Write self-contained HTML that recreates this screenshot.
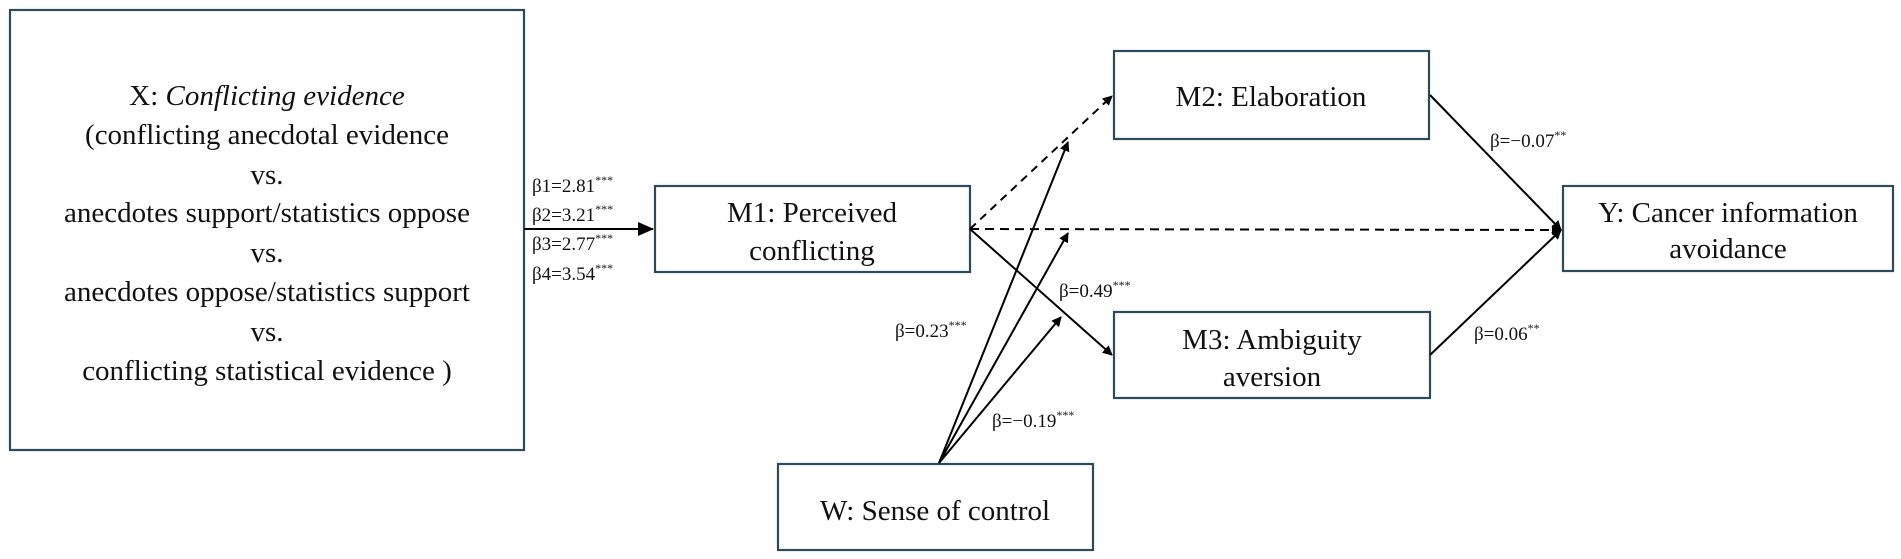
<!DOCTYPE html>
<html><head><meta charset="utf-8"><style>
html,body{margin:0;padding:0;background:#fff;}
svg{display:block;}
text{font-family:"Liberation Serif",serif;fill:#111;}
.b{fill:#fff;stroke:#2c4a5a;stroke-width:2.2;}
.t{font-size:29px;}
.s{font-size:19px;}
</style></head><body>
<svg width="1901" height="559" viewBox="0 0 1901 559">
<defs>
<marker id="a" markerWidth="10" markerHeight="10" refX="9" refY="5" orient="auto" markerUnits="userSpaceOnUse" viewBox="0 0 10 10">
<path d="M0,0 L10,5 L0,10 z" fill="#000"/></marker>
<marker id="a2" markerWidth="16" markerHeight="14" refX="15" refY="7" orient="auto" markerUnits="userSpaceOnUse" viewBox="0 0 16 14">
<path d="M0,0 L16,7 L0,14 z" fill="#000"/></marker>
</defs>
<rect class="b" x="10" y="10" width="514" height="440"/>
<rect class="b" x="655" y="186" width="315" height="86"/>
<rect class="b" x="1114" y="51" width="315" height="88"/>
<rect class="b" x="1114" y="312" width="316" height="86"/>
<rect class="b" x="1563" y="186" width="330" height="85"/>
<rect class="b" x="778" y="464" width="315" height="86"/>

<g stroke="#000" stroke-width="2" fill="none">
<line x1="524" y1="229" x2="653" y2="229" marker-end="url(#a2)"/>
<line x1="970" y1="229" x2="1112" y2="96" stroke-dasharray="8,6" marker-end="url(#a)"/>
<line x1="970" y1="229" x2="1561" y2="230" stroke-dasharray="9,6" marker-end="url(#a)"/>
<line x1="970" y1="229" x2="1112" y2="355" marker-end="url(#a)"/>
<line x1="1430" y1="95" x2="1561" y2="230" marker-end="url(#a)"/>
<line x1="1430" y1="355" x2="1561" y2="230" marker-end="url(#a)"/>
<line x1="939" y1="463" x2="1068" y2="142" marker-end="url(#a)"/>
<line x1="939" y1="463" x2="1068" y2="233" marker-end="url(#a)"/>
<line x1="939" y1="463" x2="1061" y2="317" marker-end="url(#a)"/>
</g>

<g class="t" text-anchor="middle">
<text x="267" y="105"><tspan>X: </tspan><tspan font-style="italic">Conflicting evidence</tspan></text>
<text x="267" y="144">(conflicting anecdotal evidence</text>
<text x="267" y="184">vs.</text>
<text x="267" y="222">anecdotes support/statistics oppose</text>
<text x="267" y="262">vs.</text>
<text x="267" y="301">anecdotes oppose/statistics support</text>
<text x="267" y="341">vs.</text>
<text x="267" y="380">conflicting statistical evidence )</text>
<text x="812" y="222">M1: Perceived</text>
<text x="812" y="260">conflicting</text>
<text x="1271" y="106">M2: Elaboration</text>
<text x="1272" y="349">M3: Ambiguity</text>
<text x="1272" y="386">aversion</text>
<text x="1728" y="222">Y: Cancer information</text>
<text x="1728" y="258">avoidance</text>
<text x="935" y="520">W: Sense of control</text>
</g>

<g class="s">
<text x="532" y="192">β1=2.81<tspan font-size="12" dy="-8">***</tspan></text>
<text x="532" y="221">β2=3.21<tspan font-size="12" dy="-8">***</tspan></text>
<text x="532" y="250">β3=2.77<tspan font-size="12" dy="-8">***</tspan></text>
<text x="532" y="280">β4=3.54<tspan font-size="12" dy="-8">***</tspan></text>
<text x="895" y="337">β=0.23<tspan font-size="12" dy="-8">***</tspan></text>
<text x="1059" y="297">β=0.49<tspan font-size="12" dy="-8">***</tspan></text>
<text x="992" y="427">β=−0.19<tspan font-size="12" dy="-8">***</tspan></text>
<text x="1490" y="147">β=−0.07<tspan font-size="12" dy="-8">**</tspan></text>
<text x="1474" y="340">β=0.06<tspan font-size="12" dy="-8">**</tspan></text>
</g>
</svg>
</body></html>
